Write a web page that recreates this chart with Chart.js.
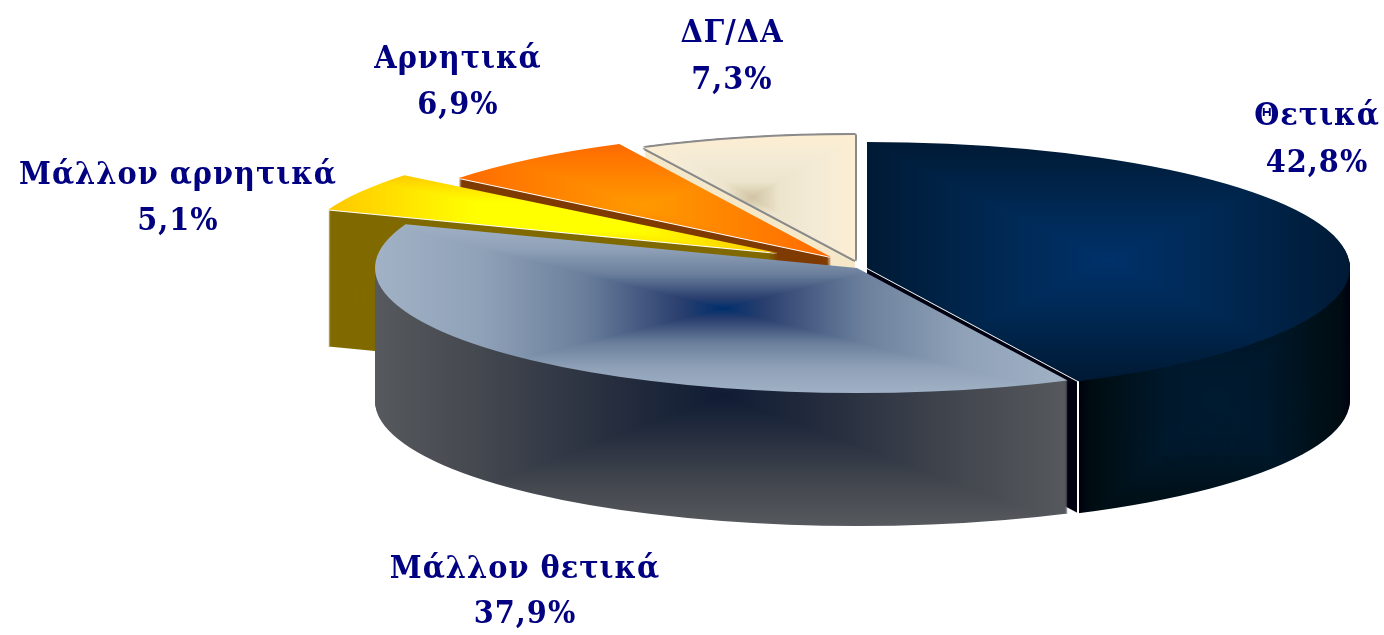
<!DOCTYPE html>
<html><head><meta charset="utf-8">
<style>html,body{margin:0;padding:0;background:#fff}canvas{display:block}</style>
<script src="https://cdn.jsdelivr.net/npm/chart.js@4"></script></head>
<body><canvas id="c" width="1384" height="635"></canvas>
<script>
const categories = ["Θετικά","Μάλλον θετικά","Μάλλον αρνητικά","Αρνητικά","ΔΓ/ΔΑ"];
const values = [42.8,37.9,5.1,6.9,7.3];

// styles and placement, per slice
const apex = [[867,268],[857,268],[778,253],[831,257],[855,260]];
const radii = [[483,126],[482,125],[480,124],[478,126],[476,125]];
const depth = [132,133,137,134,134];
const drawOrder = [4,3,2,0,1];
const labelAt = [[1317,125,172],[525,578,623],[178,184,230],[458,68,114],[732,42,89]];

function hex(h){return [parseInt(h.slice(1,3),16),parseInt(h.slice(3,5),16),parseInt(h.slice(5,7),16)];}
function pathFill(ctx,cx,cy,W,H,stops,over){
  const c=document.createElement('canvas');c.width=1384;c.height=635;
  const g=c.getContext('2d'),im=g.createImageData(1384,635),d=im.data;
  const st=stops.map(s=>[s[0],hex(s[1])]);
  for(let y=0;y<635;y++)for(let x=0;x<1384;x++){
    const t=Math.min(1,Math.max(Math.abs(x-cx)/W,Math.abs(y-cy)/H));
    let j=0;while(j<st.length-2&&t>st[j+1][0])j++;
    const a=st[j],b=st[j+1],f=(t-a[0])/(b[0]-a[0]),k=(x+y*1384)*4;
    for(let q=0;q<3;q++)d[k+q]=a[1][q]+(b[1][q]-a[1][q])*f;
    d[k+3]=255;
    if(over){const o=over(x,y);if(o){d[k]=o[0];d[k+1]=o[1];d[k+2]=o[2];}}
  }
  g.putImageData(im,0,0);
  return ctx.createPattern(c,'no-repeat');
}
const canvas=document.getElementById('c'),cx2=canvas.getContext('2d');
const flat=h=>pathFill(cx2,0,0,1e9,1e9,[[0,h],[1,h]]);
const bladeX=1077;
const blueSideStops=[[0,'#001a30'],[.35,'#00182c'],[.75,'#001018'],[.9,'#000c12'],[1,'#00000f']];
const topFill=[
  pathFill(cx2,1108,260,241,118,[[0,'#00316a'],[.5,'#002750'],[1,'#001a35']]),
  pathFill(cx2,722,308,347,86,[[0,'#002f6c'],[.12,'#2a3f6e'],[.4,'#6b7f9c'],[.7,'#90a2b8'],[1,'#a1b2c6']]),
  pathFill(cx2,554,216,224,42,[[0,'#ffff00'],[.35,'#ffff00'],[1,'#ffc800']]),
  pathFill(cx2,643,205,187,62,[[0,'#ff9a00'],[1,'#ff6a00']]),
  pathFill(cx2,752,197,105,62,[[0,'#d0c4a4'],[.25,'#ece4cc'],[.6,'#f3ebd6'],[1,'#fdeed2']])
];
const sideFill=[
  pathFill(cx2,1215,400,137,130,blueSideStops,(x)=>x<bladeX?[0,0,16]:(x<bladeX+2?[255,255,255]:null)),
  pathFill(cx2,722,395,347,130,[[0,'#101c34'],[.3,'#252d3e'],[.7,'#44484f'],[1,'#56595d']]),
  flat('#806a00'),flat('#7f3a00'),flat('#f5e8c8')
];
const white=flat('#ffffff');
const blueEdge=pathFill(cx2,1215,400,137,130,blueSideStops,(x)=>x<bladeX+2?[255,255,255]:null);
const outline=flat('#8a8a8a');

function paint(ctx,arc,i,fill,ox,oy){
  const R=arc.outerRadius;
  ctx.save();
  ctx.translate(apex[i][0]+ox,apex[i][1]+oy);
  ctx.scale(radii[i][0]/R,radii[i][1]/R);
  ctx.translate(-arc.x,-arc.y);
  fill.setTransform(ctx.getTransform().inverse());
  const o=arc.options;
  arc.options=Object.create(o,{backgroundColor:{value:fill},borderWidth:{value:0},offset:{value:0},spacing:{value:0}});
  arc.draw(ctx);
  arc.options=o;
  ctx.restore();
}
const pie3d={id:'pie3d',
  beforeDatasetDraw(chart,args){
    const ctx=chart.ctx,arcs=args.meta.data;
    for(const i of drawOrder){
      const arc=arcs[i];
      for(let z=depth[i];z>=1;z--)paint(ctx,arc,i,sideFill[i],0,z);
      if(i===2||i===3)paint(ctx,arc,i,white,0,1);
      if(i===0)paint(ctx,arc,i,blueEdge,0,1);
      if(i===4)for(const [a,b] of [[-2,0],[2,0],[0,-2],[0,2],[-1.5,-1.5],[1.5,1.5],[1.5,-1.5],[-1.5,1.5]])paint(ctx,arc,i,outline,a,b);
      paint(ctx,arc,i,topFill[i],0,0);
    }
    return false;
  },
  afterDraw(chart){
    const ctx=chart.ctx;
    ctx.save();
    ctx.font='bold 32px "DejaVu Serif"';
    ctx.fontStretch='condensed';
    ctx.letterSpacing='1px';
    ctx.fillStyle='#000080';ctx.textAlign='center';ctx.textBaseline='alphabetic';
    categories.forEach((c,i)=>{
      ctx.fillText(c,labelAt[i][0],labelAt[i][1]);
      ctx.fillText(values[i].toFixed(1).replace('.',',')+'%',labelAt[i][0],labelAt[i][2]);
    });
    ctx.restore();
  }
};
new Chart(cx2,{type:'pie',
  data:{labels:categories,datasets:[{data:values,backgroundColor:'#00316a',borderWidth:0}]},
  options:{responsive:false,animation:false,radius:200,
    plugins:{legend:{display:false},tooltip:{enabled:false}}},
  plugins:[pie3d]});
</script></body></html>
